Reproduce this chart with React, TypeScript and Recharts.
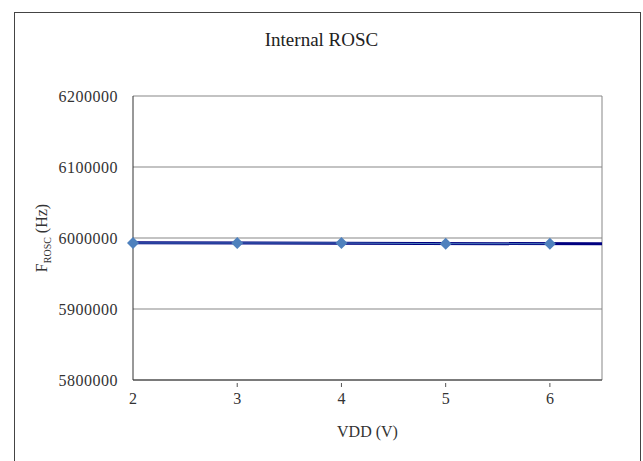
import React from 'react';
import { ComposedChart, Line, XAxis, YAxis, CartesianGrid, ReferenceLine, Label } from 'recharts';

const vdd = [2, 3, 4, 5, 6];
const freq = [5993000, 5993000, 5993000, 5992000, 5992000];
const trendX = [2, 6.5];
const trendY = [5993200, 5991800];
const yTicks = [5800000, 5900000, 6000000, 6100000, 6200000];
const xTicks = [2, 3, 4, 5, 6];

const FONT = '"Liberation Serif", "Times New Roman", serif';

const data = [
  ...vdd.map((v, i) => ({ vdd: v, freq: freq[i], trend: trendX.includes(v) ? trendY[trendX.indexOf(v)] : null })),
  { vdd: 6.5, freq: null, trend: trendY[1] },
];

function Diamond(props: any) {
  const { cx, cy } = props;
  if (cx == null || cy == null || props.value == null) return null;
  const r = 6;
  return <polygon points={`${cx},${cy - r} ${cx + r},${cy} ${cx},${cy + r} ${cx - r},${cy}`} fill="#4F81BD" />;
}

function XTick(props: any) {
  const { x, y, payload } = props;
  return (
    <g>
      {payload.value !== 2 && <line x1={x} x2={x} y1={y - 5} y2={y - 1} stroke="#555" />}
      <text x={x} y={y + 16} textAnchor="middle" fontFamily={FONT} fontSize={16} fill="#333">
        {payload.value}
      </text>
    </g>
  );
}

export default function App() {
  return (
    <div style={{ position: 'absolute', left: 0, top: 0, width: 643, height: 461, background: '#fff' }}>
      <div style={{ position: 'absolute', left: 14, top: 12, width: 627, height: 460, border: '1px solid #444', boxSizing: 'border-box' }} />
      <div style={{ position: 'absolute', left: 0, top: 29, width: 643, textAlign: 'center', fontFamily: FONT, fontSize: 19, color: '#222' }}>
        Internal ROSC
      </div>
      <div style={{ position: 'absolute', left: 0, top: 0 }}>
        <ComposedChart width={643} height={461} data={data} margin={{ top: 96, right: 41, left: 0, bottom: 51 }}>
          <CartesianGrid vertical={false} stroke="#878787" />
          <ReferenceLine x={6.5} stroke="#878787" />
          <XAxis
            dataKey="vdd"
            type="number"
            domain={[2, 6.5]}
            ticks={xTicks}
            height={30}
            axisLine={{ stroke: '#333' }}
            tickLine={false}
            tick={<XTick />}
          >
            <Label value="VDD (V)" position="bottom" offset={16} style={{ fontFamily: FONT, fontSize: 16, fill: '#333' }} />
          </XAxis>
          <YAxis
            type="number"
            domain={[5800000, 6200000]}
            ticks={yTicks}
            width={133}
            axisLine={{ stroke: '#333' }}
            tickLine={false}
            tickMargin={9}
            tick={{ fontFamily: FONT, fontSize: 16, fill: '#333', letterSpacing: 0.5 }}
            label={(p: any) => {
              const vb = p.viewBox;
              const cx = 47;
              const cy = vb.y + vb.height / 2;
              return (
                <text transform={`translate(${cx},${cy}) rotate(-90)`} textAnchor="middle" fontFamily={FONT} fontSize={16} fill="#333">
                  F<tspan fontSize={10} dy={4}>ROSC</tspan>
                  <tspan dy={-4}> (Hz)</tspan>
                </text>
              );
            }}
          />
          <Line dataKey="trend" stroke="#000080" strokeWidth={3} dot={false} connectNulls isAnimationActive={false} />
          <Line dataKey="freq" stroke="#4F81BD" strokeWidth={1} dot={<Diamond />} activeDot={false} isAnimationActive={false} />
        </ComposedChart>
      </div>
    </div>
  );
}
